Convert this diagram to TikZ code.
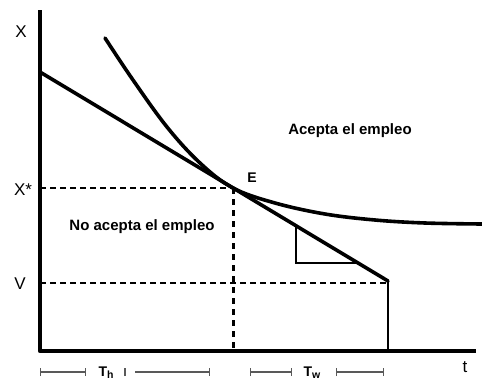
\documentclass[tikz,border=0pt]{standalone}
\usepackage{fontspec}
\setmainfont{Liberation Sans}
\usetikzlibrary{arrows.meta}
\begin{document}
\begin{tikzpicture}[x=1pt,y=-1pt,
  axisline/.style={line width=4.2pt,line join=round},
  mainline/.style={line width=3.6pt,line cap=round,line join=round},
  guide/.style={line width=2pt,dash pattern=on 6pt off 4pt},
  vguide/.style={line width=3pt,dash pattern=on 6pt off 5pt},
  thin/.style={line width=1.4pt},
  brk/.style={line width=1.1pt,draw=black!65},
  lbl/.style={font=\fontsize{17}{19}\selectfont,inner sep=0pt},
  reg/.style={font=\fontsize{15}{17}\selectfont\bfseries,inner sep=0pt},
  tlbl/.style={font=\fontsize{14}{16}\selectfont\bfseries,inner sep=0pt}]
\useasboundingbox (0,0) rectangle (482,383);
% key points
\coordinate (O) at (40,351);
\coordinate (Ytop) at (40,10);
\coordinate (Xend) at (476,351);
\coordinate (A) at (40,72);
\coordinate (E) at (233,188);
\coordinate (B) at (388,281);
\coordinate (Bb) at (388,351);
\coordinate (Xs) at (40,188);
\coordinate (Vs) at (40,283);
\coordinate (Vr) at (388,283);
\coordinate (Eb) at (233,351);
\coordinate (T1) at (296,225);
\coordinate (T2) at (296,263);
\coordinate (T3) at (359,263);
% guides
\draw[guide] (Xs) -- (E);
\draw[guide] (Vs) -- (Vr);
\draw[vguide] (E) -- (Eb);
% axes
\draw[axisline] (Ytop) -- (O) -- (Xend);
% budget line
\draw[mainline] (A) -- (B);
\draw[line width=2.2pt] (B) -- (Bb);
% triangle
\draw[thin] (T1) -- (T2) -- (T3);
% indifference curve
\draw[mainline] plot[smooth,tension=0.6] coordinates {(105,38) (133,80) (167,127) (200,163) (233,188) (275,203) (325,214) (375,220) (425,223) (482,224)};
% labels
\node[lbl] (lX) at (21,32) {X};
\node[lbl] (lXs) at (23,190) {X*};
\node[lbl] (lV) at (20,284) {V};
\node[lbl] (lt) at (465,367) {t};
\node[tlbl] (lE) at (252,178) {E};
\node[reg] (acc) at (350,131) {Acepta el empleo};
\node[reg] (noacc) at (142,227) {No acepta el empleo};
% brackets
\coordinate (b1) at (40,372);
\coordinate (b2) at (86,372);
\coordinate (b3) at (125,372);
\coordinate (b4) at (135,372);
\coordinate (b5) at (210,372);
\coordinate (c1) at (250,372);
\coordinate (c2) at (292,372);
\coordinate (c3) at (336,372);
\coordinate (c4) at (384,372);
\draw[brk,{Bar[width=8pt]}-{Bar[width=8pt]}] (b1) -- (b2);
\draw[brk] ([yshift=-4pt]b3) -- ([yshift=4pt]b3);
\draw[brk,-{Bar[width=8pt]}] (b4) -- (b5);
\draw[brk,{Bar[width=8pt]}-{Bar[width=8pt]}] (c1) -- (c2);
\draw[brk,{Bar[width=8pt]}-{Bar[width=8pt]}] (c3) -- (c4);
\node[tlbl] (Th) at (106,373) {T\raisebox{-2pt}{\fontsize{10.5}{12}\selectfont h}};
\node[tlbl] (Tw) at (312,373) {T\raisebox{-2pt}{\fontsize{10.5}{12}\selectfont w}};
\end{tikzpicture}
\end{document}
